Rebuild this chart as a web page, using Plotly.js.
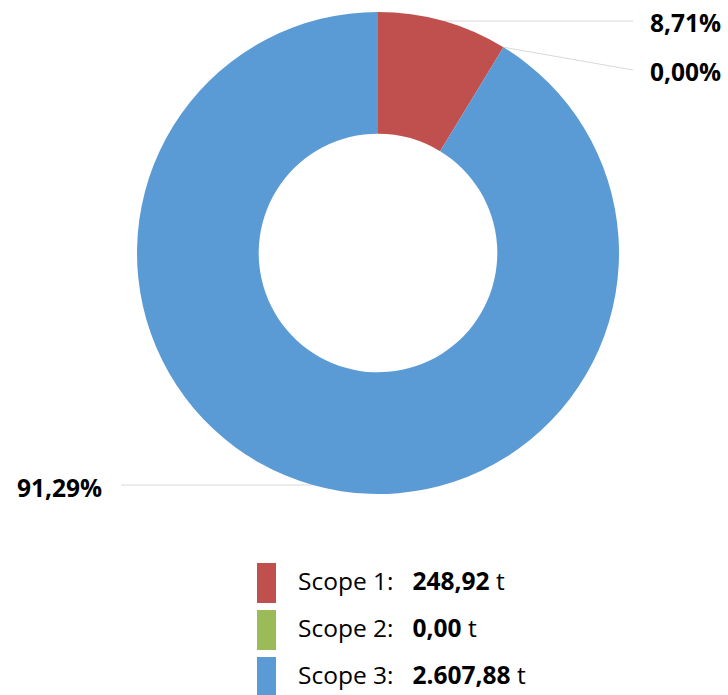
<!DOCTYPE html>
<html>
<head>
<meta charset="utf-8">
<script src="https://cdn.plot.ly/plotly-3.0.1.min.js"></script>
<style>html,body{margin:0;padding:0;background:#fff;}#chart{width:728px;height:695px;}</style>
</head>
<body>
<div id="chart"></div>
<script>
// ---- data ----
const categories = ["Scope 1", "Scope 2", "Scope 3"];
const values = [248.92, 0.00, 2607.88];
const unit = "t";
const colors = ["#C0504D", "#9BBB59", "#5B9BD5"];

// ---- layout geometry (pixels) ----
const W = 728, H = 695;
const cx = 378, cy = 253, R = 241, holeFrac = 0.495;
const px = x => x / W;
const py = y => 1 - y / H;

function fmtNum(v, dec) {
  const s = v.toFixed(dec).split('.');
  const intPart = s[0].replace(/\B(?=(\d{3})+(?!\d))/g, '.');
  return intPart + (dec > 0 ? ',' + s[1] : '');
}

const total = values.reduce((a, b) => a + b, 0);

const trace = {
  type: 'pie',
  labels: categories,
  values: values,
  sort: false,
  direction: 'clockwise',
  rotation: 0,
  hole: holeFrac,
  marker: {colors: colors, line: {width: 0}},
  textinfo: 'none',
  hoverinfo: 'label+value+percent',
  showlegend: false,
  domain: {x: [px(cx - R), px(cx + R)], y: [py(cy + R), py(cy - R)]}
};

// ---- outside percentage labels with leader lines ----
const annotations = [];
const shapes = [];
const labelFont = {family: 'Open Sans, DejaVu Sans, sans-serif', size: 24.5, color: '#000'};
let cum = 0;
let lastRightY = -Infinity, lastLeftY = Infinity;
values.forEach((v, i) => {
  const frac = v / total;
  const midAng = (cum + frac / 2) * 2 * Math.PI;
  cum += frac;
  const ex = cx + R * Math.sin(midAng);
  const ey = cy - R * Math.cos(midAng);
  const txt = '<b>' + fmtNum(frac * 100, 2) + '%</b>';
  if (ex >= cx) {
    let ly = Math.max(ey, lastRightY + 49);
    lastRightY = ly;
    shapes.push({type: 'line', xref: 'paper', yref: 'paper',
      x0: px(ex), y0: py(ey), x1: px(633), y1: py(ly),
      line: {color: '#d9d9d9', width: 1}, layer: 'below'});
    annotations.push({xref: 'paper', yref: 'paper', x: px(648), y: py(ly + 2),
      xanchor: 'left', yanchor: 'middle', text: txt, showarrow: false, font: labelFont});
  } else {
    let ly = Math.min(ey, lastLeftY - 49);
    lastLeftY = ly;
    shapes.push({type: 'line', xref: 'paper', yref: 'paper',
      x0: px(ex), y0: py(ey), x1: px(121), y1: py(ly),
      line: {color: '#d9d9d9', width: 1}, layer: 'below'});
    annotations.push({xref: 'paper', yref: 'paper', x: px(104), y: py(ly + 2),
      xanchor: 'right', yanchor: 'middle', text: txt, showarrow: false, font: labelFont});
  }
});

// ---- custom legend ----
const legFont = {family: 'Open Sans, DejaVu Sans, sans-serif', size: 24.5, color: '#000'};
categories.forEach((c, i) => {
  const top = 563 + i * 47;
  shapes.push({type: 'rect', xref: 'paper', yref: 'paper',
    x0: px(257), x1: px(276), y0: py(top), y1: py(top + 40),
    fillcolor: colors[i], line: {width: 0}});
  annotations.push({xref: 'paper', yref: 'paper', x: px(296), y: py(top + 17),
    xanchor: 'left', yanchor: 'middle', showarrow: false, font: legFont,
    text: c + ':&nbsp;&nbsp; <b>' + fmtNum(values[i], 2) + '</b> ' + unit});
});

const layout = {
  width: W, height: H,
  margin: {l: 0, r: 0, t: 0, b: 0},
  paper_bgcolor: '#fff',
  showlegend: false,
  annotations: annotations,
  shapes: shapes
};

Plotly.newPlot('chart', [trace], layout, {displayModeBar: false, staticPlot: true});
</script>
</body>
</html>
